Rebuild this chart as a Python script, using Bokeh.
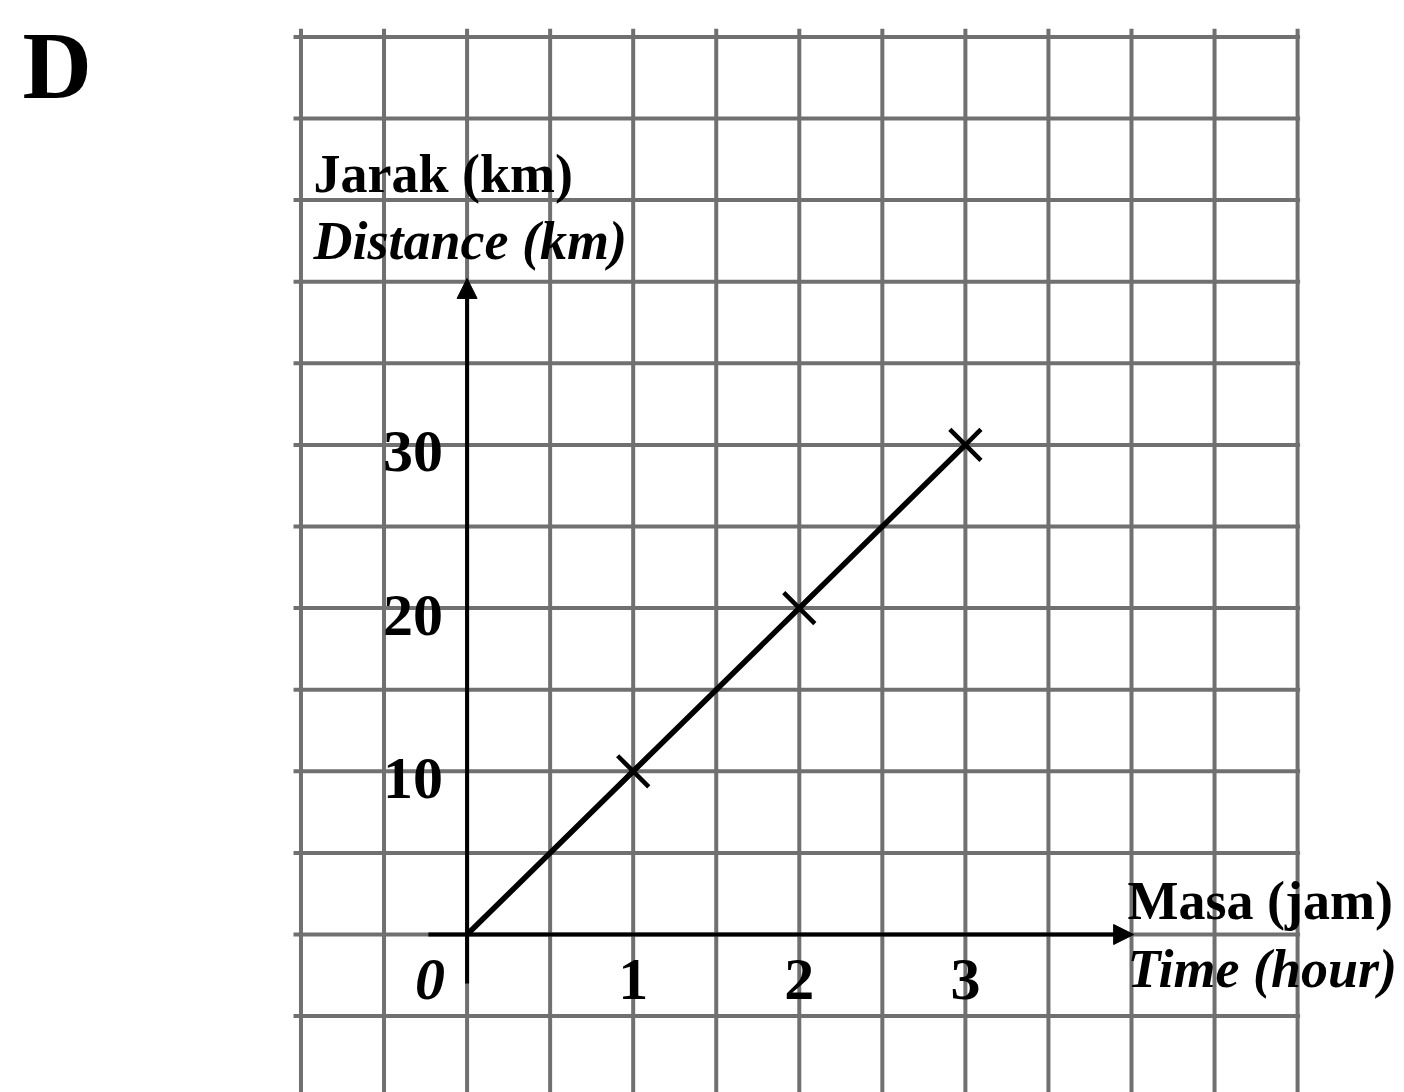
from bokeh.plotting import figure
from bokeh.models import Range1d, Arrow, NormalHead, Label
from bokeh.core.properties import value
from bokeh.embed import file_html
from bokeh.resources import INLINE
import numpy as np

# Travel record: time in hours against distance in km
hours = [0, 1, 2, 3]
distance_km = [0, 10, 20, 30]

# Axis tick labels
x_ticks = [1, 2, 3]
x_tick_labels = ["1", "2", "3"]
y_ticks = [10, 20, 30]
y_tick_labels = ["10", "20", "30"]

# Graph-paper ruling: one square = half an hour across, 5 km up
grid_x = np.arange(-1, 5.01, 0.5)
grid_y = np.arange(-5, 55.1, 5)

SERIF = "Liberation Serif"
INK = "black"
PAPER_LINE = "#707070"

W, H = 1404, 1092
p = figure(
    width=W, height=H,
    x_range=Range1d(-2.809, 5.6436),
    y_range=Range1d(-9.68, 57.23),
    x_axis_type=None, y_axis_type=None,
    toolbar_location=None, output_backend="svg",
    min_border=0,
)
p.outline_line_color = None
p.grid.visible = False
p.background_fill_color = "white"
p.border_fill_color = "white"

# graph paper
p.segment(x0=grid_x, y0=-10.5, x1=grid_x, y1=55.5,
          line_color=PAPER_LINE, line_width=4)
p.segment(x0=-1.045, y0=grid_y, x1=5.015, y1=grid_y,
          line_color=PAPER_LINE, line_width=4)

# axes with arrowheads
p.add_layout(Arrow(end=NormalHead(size=20, fill_color=INK, line_color=INK),
                   x_start=0, y_start=-3.0, x_end=0, y_end=40.2,
                   line_color=INK, line_width=4))
p.add_layout(Arrow(end=NormalHead(size=20, fill_color=INK, line_color=INK),
                   x_start=-0.233, y_start=0, x_end=4.013, y_end=0,
                   line_color=INK, line_width=4))

# distance-time line and plotted points
p.line(hours, distance_km, line_color=INK, line_width=5.5)
p.scatter(hours[1:], distance_km[1:], marker="x", size=44,
          line_color=INK, line_width=4.5)

# tick labels
p.text(x=x_ticks, y=[0] * len(x_ticks), text=x_tick_labels,
       text_font=value(SERIF), text_font_style="bold", text_font_size="60px",
       text_align="center", text_baseline="alphabetic", y_offset=45,
       text_color=INK)
p.text(x=[0] * len(y_ticks), y=y_ticks, text=y_tick_labels,
       text_font=value(SERIF), text_font_style="bold", text_font_size="60px",
       text_align="right", text_baseline="alphabetic", x_offset=-24, y_offset=7,
       text_color=INK)
p.text(x=[0], y=[0], text=["0"],
       text_font=value(SERIF), text_font_style="bold italic", text_font_size="60px",
       text_align="right", text_baseline="alphabetic", x_offset=-22, y_offset=45,
       text_color=INK)

# axis titles
def title(x, y, txt, style):
    p.add_layout(Label(x=x, y=y, text=txt, text_font=SERIF,
                       text_font_style=style, text_font_size="54px",
                       text_align="left", text_baseline="alphabetic",
                       text_color=INK))

title(-0.925, 46.59, "Jarak (km)", "bold")
title(-0.925, 42.49, "Distance (km)", "bold italic")
title(3.976, 2.05, "Masa (jam)", "bold")
title(3.976, -2.12, "Time (hour)", "bold italic")

# option letter
p.add_layout(Label(x=22, y=H - 65, x_units="screen", y_units="screen",
                   text="D", text_font=SERIF, text_font_style="bold",
                   text_font_size="96px", text_align="left",
                   text_baseline="alphabetic", text_color=INK))

open("out.html", "w").write(file_html(p, INLINE))
